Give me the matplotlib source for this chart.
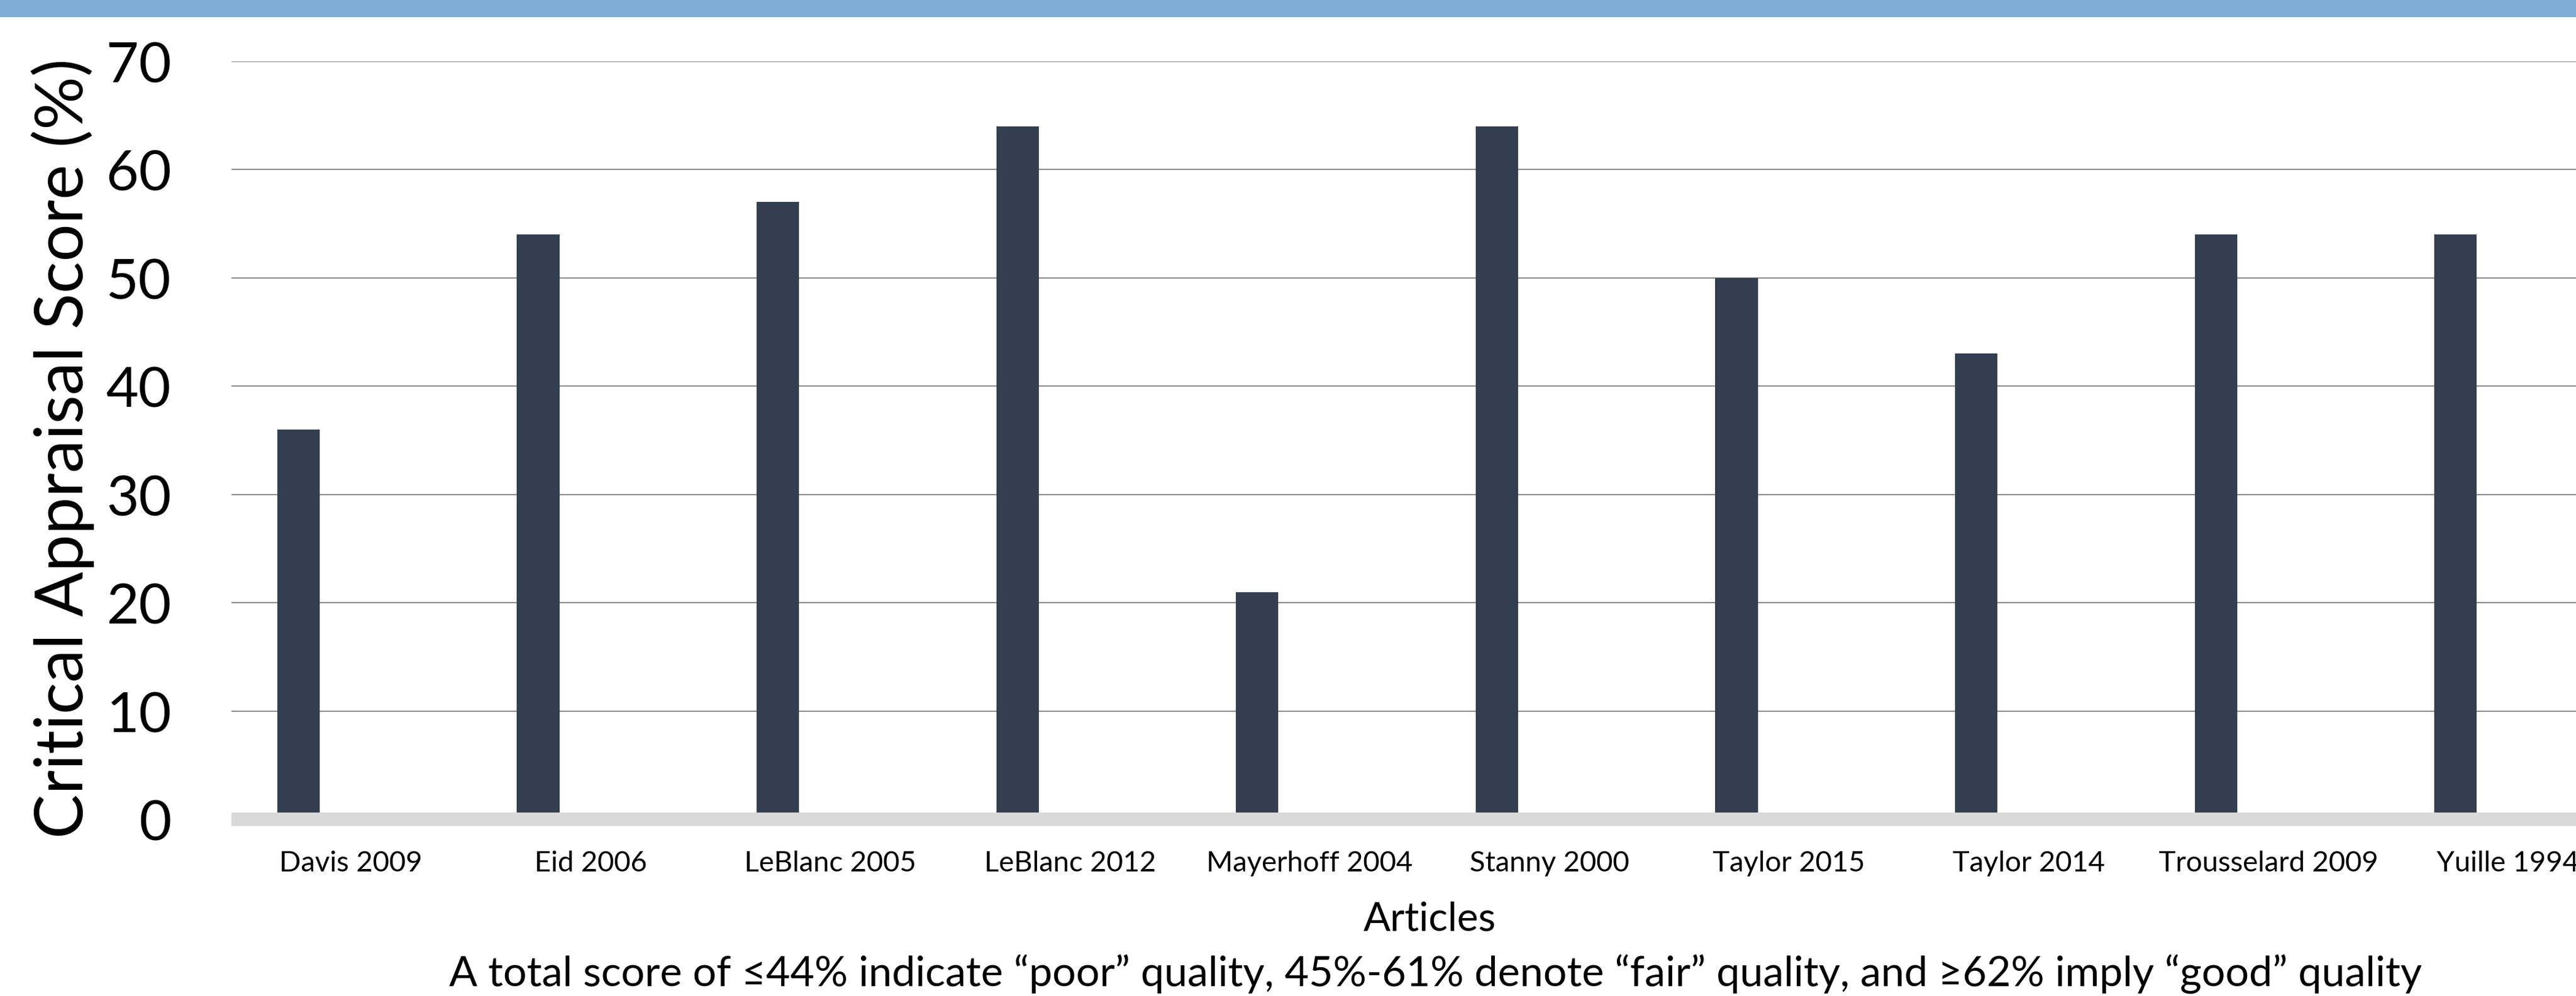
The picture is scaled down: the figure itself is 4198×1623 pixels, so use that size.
import matplotlib
matplotlib.use("Agg")
import matplotlib.pyplot as plt
from matplotlib.patches import Rectangle
import numpy as np

# === DADOS ===
articles = ["Davis 2009", "Eid 2006", "LeBlanc 2005", "LeBlanc 2012", "Mayerhoff 2004",
            "Stanny 2000", "Taylor 2015", "Taylor 2014", "Trousselard 2009", "Yuille 1994"]
scores = [36, 54, 57, 64, 21, 64, 50, 43, 54, 54]
y_ticks = [0, 10, 20, 30, 40, 50, 60, 70]

y_label = "Critical Appraisal Score (%)"
x_label = "Articles"
caption = ("A total score of \u226444% indicate \u201cpoor\u201d quality, 45%-61% denote "
           "\u201cfair\u201d quality, and \u226562% imply \u201cgood\u201d quality")

plt.rcParams['font.family'] = ['Lato', 'DejaVu Sans']

W, H = 4198, 1624
fig = plt.figure(figsize=(W / 100, H / 100), dpi=100)
fig.patch.set_facecolor("white")

# faixa azul no topo
fig.add_artist(Rectangle((0, 1 - 29 / H), 1, 29 / H, transform=fig.transFigure,
                         facecolor="#80ADD6", edgecolor="none"))

# eixo (passa da borda direita, como no original recortado)
left, right = 376.7, 376.7 + 3906
bottom, top = 1336, 101
ax = fig.add_axes([left / W, 1 - bottom / H, (right - left) / W, (bottom - top) / H])

x = np.arange(len(articles))
ax.bar(x - 0.219, scores, width=0.177, color="#333F50", zorder=2)

ax.set_xlim(-0.5, len(articles) - 0.5)
ax.set_ylim(0, 70)
ax.set_yticks(y_ticks)
ax.yaxis.grid(True, color="#8c8c8c", linewidth=1.5, zorder=1)
ax.set_axisbelow(True)
for s in ax.spines.values():
    s.set_visible(False)

# linha do eixo x: faixa cinza clara grossa
ax.axhline(0, color="#D9D9D9", linewidth=15.8, zorder=3, clip_on=False,
           solid_capstyle="butt")

ax.set_xticks(x)
ax.set_xticklabels(articles, fontsize=33.5)
ax.tick_params(axis="x", length=0, pad=36)
ax.tick_params(axis="y", length=0, pad=70, labelsize=66)

fig.text(102 / W, 1 - 731 / H, y_label, rotation=90, ha="center", va="center", fontsize=78)
fig.text(2330 / W, 1 - 1517 / H, x_label, ha="center", va="baseline", fontsize=47)
fig.text(2339 / W, 1 - 1607 / H, caption, ha="center", va="baseline", fontsize=49)

fig.savefig("out.png", dpi=100)
